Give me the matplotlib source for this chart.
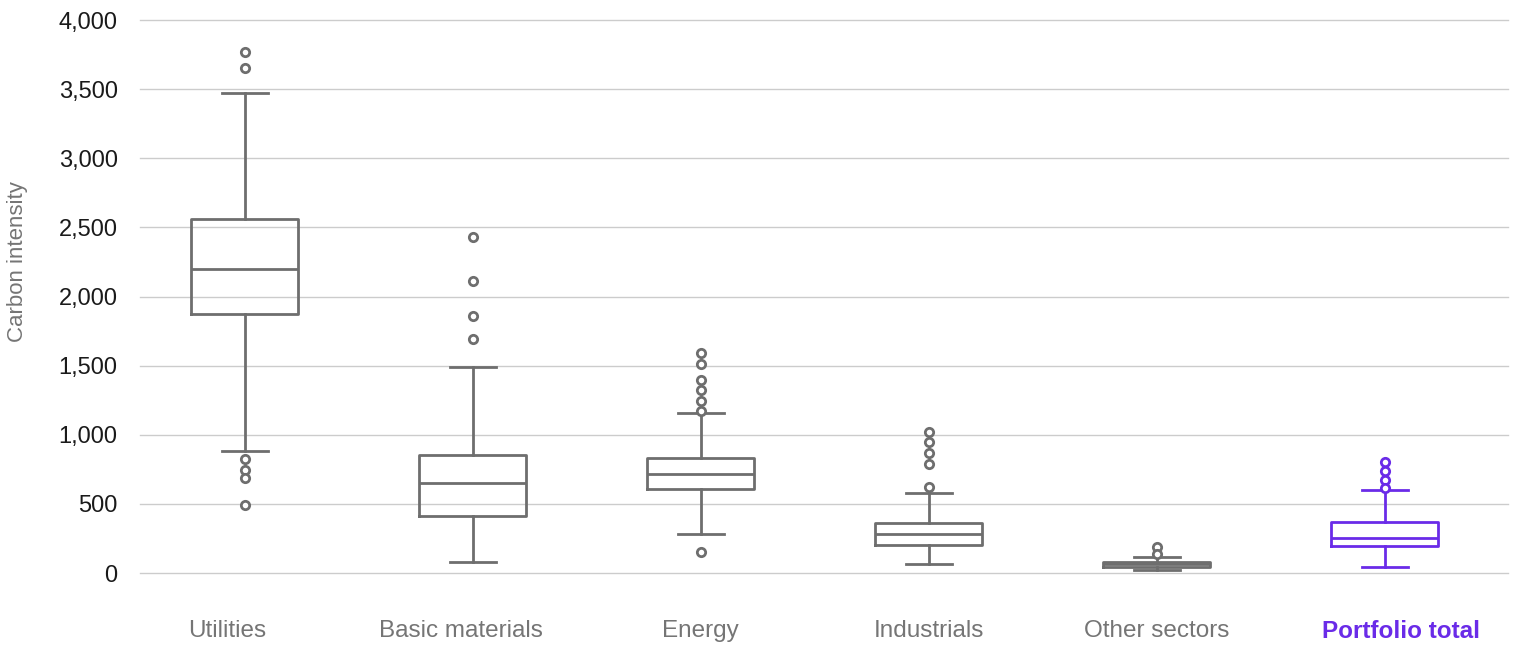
import matplotlib.pyplot as plt
import matplotlib.transforms as mtransforms
from matplotlib.ticker import FuncFormatter

plt.rcParams['font.family'] = ['Liberation Sans', 'DejaVu Sans']

# box statistics
sectors = ["Utilities", "Basic materials", "Energy", "Industrials", "Other sectors", "Portfolio total"]
whis_lo = [882, 80, 282, 63, 22, 46]
q1 = [1873, 412, 608, 202, 46, 195]
median = [2199, 651, 716, 280, 65, 256]
q3 = [2560, 853, 832, 359, 82, 367]
whis_hi = [3472, 1490, 1157, 576, 113, 600]
outliers = [
    [3768, 3653, 825, 745, 687, 492],
    [2430, 2112, 1859, 1692],
    [1591, 1512, 1396, 1324, 1244, 1172, 152],
    [1022, 945, 870, 788, 620],
    [190, 140],
    [805, 738, 673, 612],
]

grey = "#6e6e6e"
purple = "#6a2be8"

fig = plt.figure(figsize=(15.16, 6.46), dpi=100)
ax = fig.add_axes([0.0923, 0.113, 0.9024, 0.856])

for i, name in enumerate(sectors):
    col = purple if name == "Portfolio total" else grey
    stats = [dict(label=name, whislo=whis_lo[i], q1=q1[i], med=median[i],
                  q3=q3[i], whishi=whis_hi[i], fliers=outliers[i])]
    ax.bxp(stats, positions=[i], widths=0.47, capwidths=0.2,
           boxprops=dict(color=col, linewidth=2),
           medianprops=dict(color=col, linewidth=2),
           whiskerprops=dict(color=col, linewidth=2),
           capprops=dict(color=col, linewidth=2),
           flierprops=dict(marker="o", markersize=6, markerfacecolor="white",
                           markeredgecolor=col, markeredgewidth=2))

ax.set_xlim(-0.46, 5.54)
ax.set_ylim(0, 4000)
ax.set_yticks(range(0, 4001, 500))
ax.yaxis.set_major_formatter(FuncFormatter(lambda v, p: f"{int(v):,}"))
ax.set_xticks(range(len(sectors)))
ax.set_xticklabels(sectors)
ax.tick_params(axis="both", length=0)
ax.tick_params(axis="y", labelsize=17, labelcolor="#1a1a1a", pad=16)
ax.tick_params(axis="x", labelsize=17.5, labelcolor="#757575", pad=34)
lbl = ax.get_xticklabels()[-1]
lbl.set_color(purple)
lbl.set_fontweight("bold")

# labels in the original sit a little off the box centres
shifts = [-18, -12, 0, 0, 0, 16]
for t, dx in zip(ax.get_xticklabels(), shifts):
    t.set_transform(t.get_transform() + mtransforms.ScaledTranslation(dx / 100, 0, fig.dpi_scale_trans))

ax.grid(axis="y", color="#cccccc", linewidth=1)
for g in ax.get_ygridlines():
    g.set_clip_on(False)
ax.set_axisbelow(True)
for s in ax.spines.values():
    s.set_visible(False)

fig.text(18 / 1516, 1 - 262 / 646, "Carbon intensity", fontsize=16, color="#757575",
         rotation=90, ha="center", va="center")

fig.savefig("out.png", dpi=100)
